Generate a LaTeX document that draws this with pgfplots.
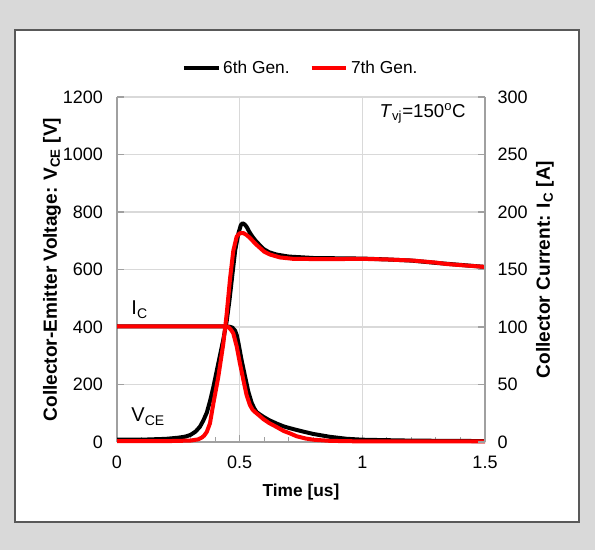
\documentclass[border=0pt]{standalone}
\usepackage{pgfplots}
\pgfplotsset{compat=1.18}
\usepackage{fontspec}
\setmainfont{Liberation Sans}
\definecolor{bggray}{HTML}{D9D9D9}
\definecolor{gridgray}{HTML}{D9D9D9}
\definecolor{axgray}{HTML}{A0A0A0}
\begin{document}
\begin{tikzpicture}
\fill[bggray] (0,0) rectangle (446.25pt,412.5pt);
\filldraw[fill=white, draw=black!65, line width=0.8pt] (11.25pt,21pt) rectangle (434.25pt,390pt);
\begin{axis}[
  at={(87.75pt,81pt)}, anchor=south west,
  width=276pt, height=258.75pt, scale only axis,
  xmin=0, xmax=1.5, ymin=0, ymax=1200,
  xtick={0,0.5,1,1.5}, ytick={0,200,...,1200},
  minor x tick num=4,
  axis y line*=left, axis x line*=bottom,
  axis line style={draw=axgray, line width=0.8pt},
  every tick/.style={draw=axgray, line width=0.8pt},
  major tick length=5pt, minor tick length=4pt,
  grid=major, major grid style={draw=gridgray, line width=0.8pt},
  /pgf/number format/assume math mode=true,
  /pgf/number format/1000 sep={},
  tick label style={font=\fontsize{13.5}{16}\selectfont},
  xticklabel style={yshift=-7pt},
  yticklabel style={xshift=-7pt},
  xlabel={\bfseries Time [us]},
  ylabel={\bfseries Collector-Emitter Voltage: V\textsubscript{CE} [V]},
  every axis x label/.style={at={(axis description cs:0.5,-0.145)}, anchor=center, font=\fontsize{13}{16}\selectfont},
  every axis y label/.style={at={(axis description cs:-0.1766,0.5)}, rotate=90, anchor=center, font=\fontsize{14.3}{17}\selectfont},
  legend style={draw=none, fill=none, legend columns=-1, at={(axis description cs:0.5,1.084)}, anchor=center, font=\fontsize{13}{15}\selectfont, /tikz/every even column/.append style={column sep=13pt}},
  legend image code/.code={\draw[#1, line width=3pt] (0pt,0pt) -- (26pt,0pt);},
  clip=false,
]
\addlegendimage{black}\addlegendentry{6th Gen.}
\addlegendimage{red}\addlegendentry{7th Gen.}
% 6th Gen. V_CE
\addplot[black, line width=3pt, line join=round] table {
0 8
0.10 8
0.20 11
0.25 15
0.28 19
0.30 25
0.32 36
0.338 53
0.352 75
0.366 102
0.38 145
0.393 192
0.413 274
0.433 355
0.447 420
0.458 490
0.470 580
0.482 668
0.495 726
0.505 755
0.512 761
0.520 757
0.528 749
0.540 730
0.549 718
0.562 703
0.576 690
0.596 672
0.62 660
0.65 652
0.70 645
0.80 640
0.90 639
1.00 638
1.10 635
1.20 631
1.30 623
1.40 616
1.50 609
};
% 6th Gen. I_C [A] (right axis, 1 A = 4 V)
\addplot[black, line width=3pt, line join=round] table[y expr=4*\thisrowno{1}] {
0 100.5
0.2 100.5
0.44 100.5
0.460 100.2
0.470 99.5
0.481 97
0.488 93
0.495 86
0.508 71
0.522 57
0.535 44
0.549 34
0.560 29
0.569 26
0.582 24
0.596 22
0.62 19
0.651 16
0.68 13.5
0.705 12
0.732 10.5
0.77 8.5
0.80 7
0.868 4.5
0.936 2.8
1.0 2
1.07 1.7
1.2 1.2
1.35 1
1.5 0.8
};
% 7th Gen. V_CE
\addplot[red, line width=3pt, line join=round] table {
0 3
0.20 3
0.30 5
0.33 9
0.345 15
0.355 22
0.366 35
0.379 65
0.393 135
0.413 227
0.433 340
0.447 445
0.461 570
0.474 665
0.488 715
0.500 726
0.515 727
0.528 720
0.542 710
0.556 697
0.570 685
0.583 675
0.600 662
0.624 652
0.664 642
0.719 637
0.85 636
1.00 637
1.10 635
1.208 631
1.30 624
1.344 619
1.42 614
1.50 609
};
% 7th Gen. I_C [A]
\addplot[red, line width=3pt, line join=round] table[y expr=4*\thisrowno{1}] {
0 100.5
0.2 100.5
0.44 100.5
0.454 100
0.465 97.5
0.474 94.5
0.488 83
0.501 68.5
0.515 54
0.528 41
0.542 32
0.553 28
0.563 26
0.58 23
0.596 20
0.62 16.5
0.651 13
0.68 9.5
0.705 7.5
0.732 5
0.77 3
0.80 2
0.868 1
1.0 0.5
1.5 0.5
};
\node[anchor=base west, font=\fontsize{15}{18}\selectfont, inner sep=0pt] at (axis cs:0.058,442) {I\textsubscript{C}};
\node[anchor=base west, font=\fontsize{15}{18}\selectfont, inner sep=0pt] at (axis cs:0.058,70) {V\textsubscript{CE}};
\node[anchor=center, font=\fontsize{14}{17}\selectfont, inner sep=0pt] at (axis cs:1.246,1144) {\textit{T}\textsubscript{vj}=150\textsuperscript{o}C};
\end{axis}
\begin{axis}[
  at={(87.75pt,81pt)}, anchor=south west,
  width=276pt, height=258.75pt, scale only axis,
  xmin=0, xmax=1.5, ymin=0, ymax=300,
  ytick={0,50,...,300},
  axis y line*=right, axis x line=none,
  axis line style={draw=axgray, line width=0.8pt},
  every tick/.style={draw=axgray, line width=0.8pt},
  major tick length=5pt,
  /pgf/number format/assume math mode=true,
  tick label style={font=\fontsize{13.5}{16}\selectfont},
  yticklabel style={xshift=6pt},
  ylabel={\bfseries Collector Current: I\textsubscript{C} [A]},
  every axis y label/.style={at={(axis description cs:1.163,0.5)}, rotate=90, anchor=center, font=\fontsize{14.3}{17}\selectfont},
]
\addplot[draw=none] coordinates {(0,0)};
\end{axis}
\end{tikzpicture}
\end{document}
